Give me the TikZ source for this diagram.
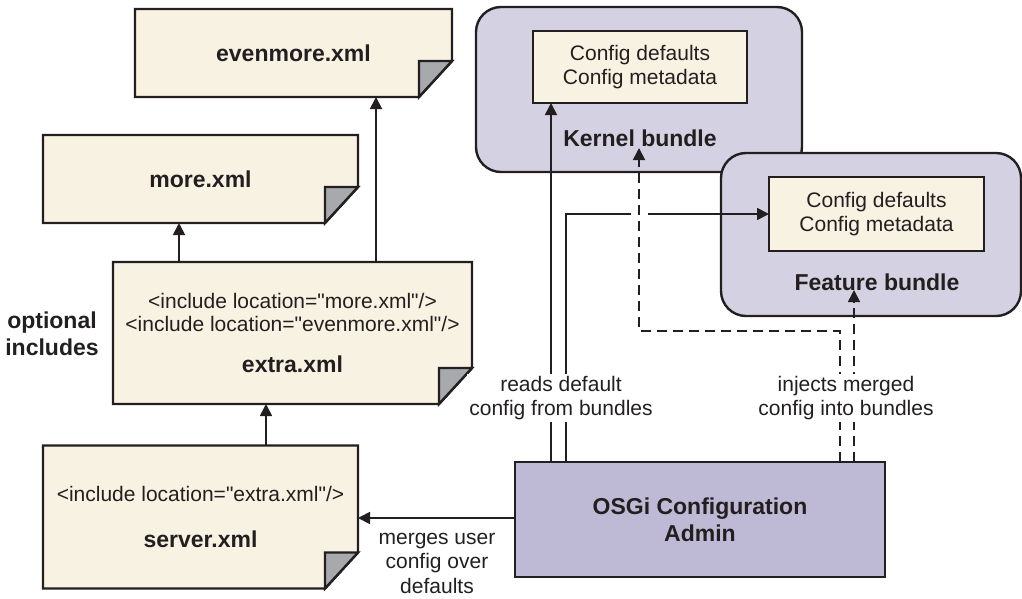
\documentclass[tikz,border=0pt]{standalone}
\usepackage{fontspec}
\setmainfont{Liberation Sans}[Ligatures=TeXOff]
\usetikzlibrary{arrows.meta,backgrounds,calc}
\definecolor{cream}{RGB}{247,242,226}
\definecolor{foldgray}{RGB}{167,169,172}
\definecolor{bundlefill}{RGB}{212,210,226}
\definecolor{adminfill}{RGB}{190,185,212}
\definecolor{ink}{RGB}{35,31,32}
\newcommand\txtfont{\fontsize{21}{24.5}\selectfont}
\newcommand\lblfont{\fontsize{23}{27}\selectfont\bfseries}
\newcommand\docshape[1]{%
  \filldraw[docline, fill=cream] (#1.north west) -- (#1.north east) -- ([yshift=36pt]#1.south east) -- ([xshift=-33pt]#1.south east) -- (#1.south west) -- cycle;
  \filldraw[docline, fill=foldgray] ([yshift=36pt]#1.south east) -- ([xshift=-33pt,yshift=36pt]#1.south east) -- ([xshift=-33pt]#1.south east) -- cycle;
}
\tikzset{
  docline/.style={draw=ink, line width=2.4pt, line join=miter},
  docnode/.style={rectangle, draw=none, outer sep=0pt, inner sep=0pt, align=center, text=ink, font=\txtfont},
  bundle/.style={rectangle, rounded corners=25pt, draw=ink, line width=2.4pt, fill=bundlefill, outer sep=0pt, inner sep=0pt},
  cfgbox/.style={rectangle, draw=ink, line width=2.4pt, fill=cream, outer sep=0pt, inner sep=0pt, align=center, text=ink, font=\txtfont},
  adminbox/.style={rectangle, draw=ink, line width=2.4pt, fill=adminfill, outer sep=0pt, inner sep=0pt, align=center, text=ink, font=\lblfont},
  boldlbl/.style={inner sep=0pt, text=ink, font=\lblfont, align=center},
  edgelbl/.style={inner sep=2pt, fill=white, text=ink, font=\txtfont, align=center},
  arr/.style={draw=ink, line width=1.8pt, -{Triangle[length=12pt,width=12pt]}},
  dasharr/.style={arr, dash pattern=on 10pt off 6pt},
}
\begin{document}
\begin{tikzpicture}[x=1pt,y=-1pt]
\useasboundingbox (0,0) rectangle (1022,598);

% documents
\node[docnode, minimum width=317pt, minimum height=88pt] (evenmore) at (293.5,53) {{\lblfont evenmore.xml}};
\node[docnode, minimum width=315pt, minimum height=88pt] (more) at (200.5,179) {{\lblfont more.xml}};
\node[docnode, minimum width=359pt, minimum height=142pt] (extra) at (292.5,333)
  {\raisebox{-2pt}{<include location="more.xml"/>}\\<include location="evenmore.xml"/>\\[17pt]{\lblfont extra.xml}};
\node[docnode, minimum width=315pt, minimum height=143pt] (server) at (200.5,517)
  {<include location="extra.xml"/>\\[22pt]{\lblfont server.xml}};
\begin{scope}[on background layer]
  \docshape{evenmore}
  \docshape{more}
  \docshape{extra}
  \docshape{server}
\end{scope}

\node[boldlbl] (optional) at (52,334) {optional\\includes};

% bundles
\node[bundle, minimum width=326pt, minimum height=165pt] (kb) at (639,89.5) {};
\node[cfgbox, minimum width=214pt, minimum height=72pt] (kcfg) at (640,67) {Config defaults\\Config metadata};
\node[boldlbl] (kbl) at (640,138) {Kernel bundle};
\node[bundle, minimum width=300pt, minimum height=163pt] (fb) at (871,234.5) {};
\node[cfgbox, minimum width=215pt, minimum height=74pt] (fcfg) at (876.5,214) {Config defaults\\Config metadata};
\node[boldlbl] (fbl) at (877,282) {Feature bundle};

% admin
\node[adminbox, minimum width=370pt, minimum height=115pt] (admin) at (700,519.5) {OSGi Configuration\\Admin};

% connectors between documents
\coordinate (s1) at ([xshift=65.5pt]server.north);
\draw[arr] (s1) -- (s1 |- extra.south);
\coordinate (e1) at ([xshift=-113.5pt]extra.north);
\draw[arr] (e1) -- (e1 |- more.south);
\coordinate (e2) at ([xshift=83.5pt]extra.north);
\draw[arr] (e2) -- (e2 |- evenmore.south);
\draw[arr] ([yshift=1.5pt]admin.west) -- ([yshift=1.5pt]admin.west -| server.east);

% admin connectors
\coordinate (a1) at ([xshift=36pt]admin.north west);
\coordinate (a2) at ([xshift=51pt]admin.north west);
\coordinate (a3) at ([xshift=-45pt]admin.north east);
\coordinate (a4) at ([xshift=-31pt]admin.north east);
\draw[arr] (a1) -- (a1 |- kcfg.south);
\draw[arr] (a2) |- (fcfg.west);
\coordinate (cross) at (kb.south |- fcfg.west);
\fill[white] ([xshift=-8pt,yshift=-3pt]cross) rectangle ([xshift=9pt,yshift=3pt]cross);
\draw[dasharr] (a3) -- ([yshift=131pt]a3) -| ([yshift=24pt]kb.south);
\draw[dasharr] (a4) -- ([yshift=26pt]fb.south -| a4);

% labels
\node[edgelbl] (reads) at (561,398) {reads default\\config from bundles};
\node[edgelbl] (injects) at (846,398) {injects merged\\config into bundles};
\node[inner sep=0pt, text=ink, font=\txtfont, align=center] (merges) at (437,563) {merges user\\config over\\defaults};
\end{tikzpicture}
\end{document}
